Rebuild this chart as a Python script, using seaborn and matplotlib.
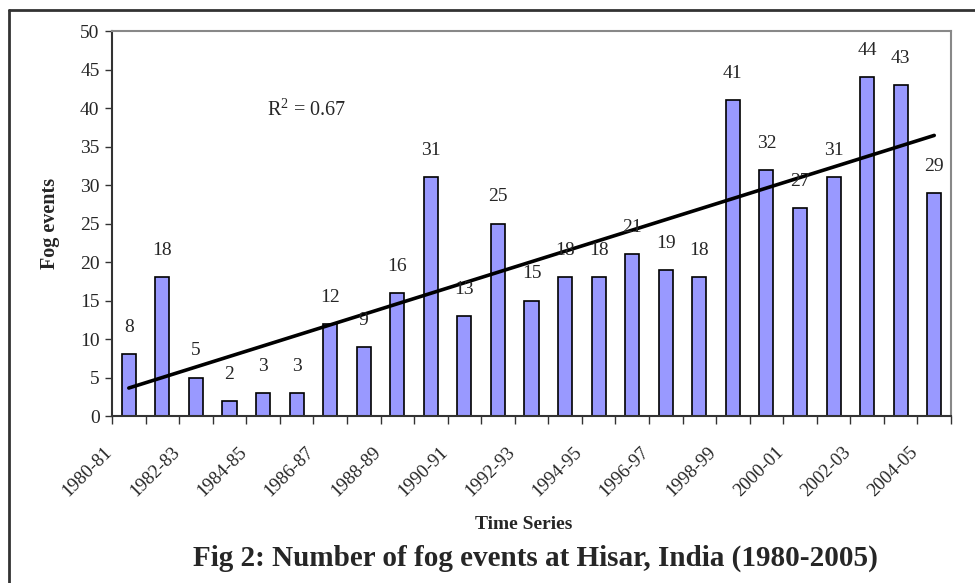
import numpy as np
import pandas as pd
import matplotlib
matplotlib.use('Agg')
import matplotlib.pyplot as plt
import matplotlib.transforms as mtransforms
import seaborn as sns

# fog season labels and number of fog events
seasons = ['1980-81', '1981-82', '1982-83', '1983-84', '1984-85', '1985-86',
           '1986-87', '1987-88', '1988-89', '1989-90', '1990-91', '1991-92',
           '1992-93', '1993-94', '1994-95', '1995-96', '1996-97', '1997-98',
           '1998-99', '1999-00', '2000-01', '2001-02', '2002-03', '2003-04',
           '2004-05']
fog_events = [8, 18, 5, 2, 3, 3, 12, 9, 16, 31, 13, 25, 15, 18, 18, 21,
              19, 18, 41, 32, 27, 31, 44, 43, 29]
y_ticks = [0, 5, 10, 15, 20, 25, 30, 35, 40, 45, 50]
r2_text = 'R$^2$ = 0.67'

df = pd.DataFrame({'season': seasons, 'fog': fog_events})

sns.set_style('white')
plt.rcParams['font.family'] = ['Liberation Serif', 'DejaVu Serif']
plt.rcParams['mathtext.fontset'] = 'custom'
plt.rcParams['mathtext.rm'] = 'Liberation Serif'

fig = plt.figure(figsize=(9.75, 5.83), dpi=100)
ax = fig.add_axes([0.1149, 0.2864, 0.8605, 0.6604])

sns.barplot(data=df, x='season', y='fog', order=seasons, color='#9999FF',
            saturation=1, width=0.42, edgecolor='black', linewidth=1.2, ax=ax)

# linear trend line through the bars
xs = np.arange(len(fog_events))
slope, intercept = np.polyfit(xs, fog_events, 1)
ax.plot(xs, slope * xs + intercept, color='black', lw=2.6)

# value labels above bars
for i, v in enumerate(fog_events):
    ax.annotate(str(v), (i, v), xytext=(0, 13), textcoords='offset points',
                ha='center', va='bottom', fontsize=14)

ax.text(5.3, 39.7, r2_text, fontsize=14.5, ha='center', va='center')

ax.set_xlim(-0.5, len(seasons) - 0.5)
ax.set_ylim(0, 50)
ax.set_yticks(y_ticks)
ax.tick_params(axis='y', left=True, length=5, width=1, labelsize=14, pad=4,
               color='#333333')

# category boundaries get the tick marks, every other season gets a label
ax.set_xticks(np.arange(-0.5, len(seasons), 1), minor=True)
ax.set_xticks(xs[::2])
ax.set_xticklabels(seasons[::2], rotation=45, ha='right', va='center',
                   rotation_mode='anchor', fontsize=13.5)
ax.tick_params(axis='x', which='major', length=0, pad=24)
ax.tick_params(axis='x', which='minor', bottom=True, length=6, width=1,
               color='#333333')
shift = mtransforms.ScaledTranslation(-19 / 100, 0, fig.dpi_scale_trans)
for lab in ax.get_xticklabels():
    lab.set_transform(lab.get_transform() + shift)

for side in ['left', 'bottom']:
    ax.spines[side].set_color('#333333')
    ax.spines[side].set_linewidth(1.5)
for side in ['top', 'right']:
    ax.spines[side].set_color('#888888')
    ax.spines[side].set_linewidth(1.5)

ax.set_xlabel('')
ax.set_ylabel('Fog events', fontsize=14.5, fontweight='bold', labelpad=14)
fig.text(0.537, 0.101, 'Time Series', ha='center', va='center',
         fontsize=14, fontweight='bold')

fig.text(0.549, 0.043, 'Fig 2: Number of fog events at Hisar, India (1980-2005)',
         ha='center', va='center', fontsize=21, fontweight='bold')

# outer frame (top and left edges only)
fig.add_artist(plt.Line2D([0.0092, 1.0], [0.983, 0.983], color='#333333', lw=2))
fig.add_artist(plt.Line2D([0.0092, 0.0092], [0.0, 0.983], color='#333333', lw=2))

fig.savefig('out.png', dpi=100)
